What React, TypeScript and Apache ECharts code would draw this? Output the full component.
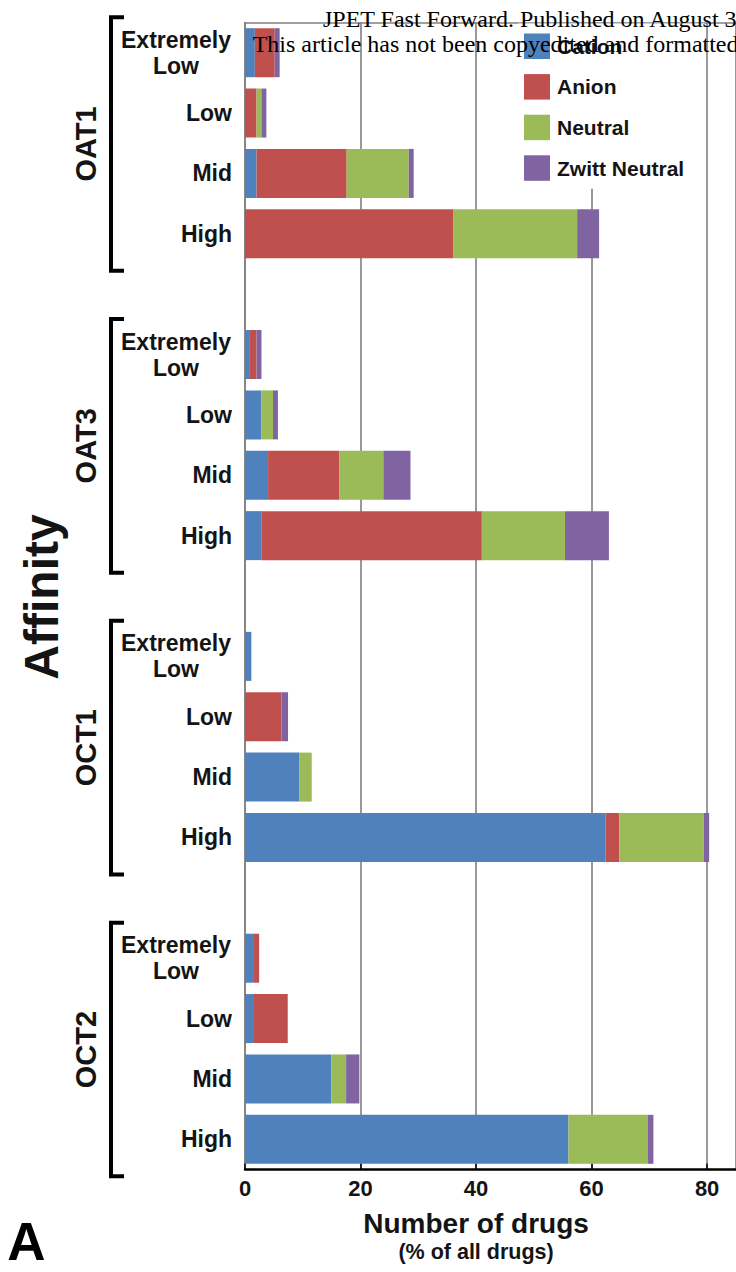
import React, { useEffect, useRef } from "react";
import * as echarts from "echarts";

// Transporter groups and affinity levels (top to bottom)
const groups = ["OAT1", "OAT3", "OCT1", "OCT2"];
const levels = ["Extremely Low", "Low", "Mid", "High"];

// Number of drugs (% of all drugs), listed group by group in level order
const cation = [1.7, 0, 2.0, 0, 0.85, 2.85, 4.0, 2.9, 1.1, 0, 9.45, 62.4, 1.4, 1.4, 14.95, 56.0];
const anion = [3.45, 2.0, 15.6, 36.1, 1.15, 0, 12.35, 38.1, 0, 6.3, 0, 2.4, 1.05, 6.0, 0, 0];
const neutral = [0, 0.85, 10.75, 21.4, 0, 2.0, 7.6, 14.4, 0, 0, 2.1, 14.6, 0, 0, 2.55, 13.7];
const zwitt = [0.85, 0.85, 0.85, 3.8, 0.85, 0.85, 4.7, 7.6, 0, 1.15, 0, 0.95, 0, 0, 2.3, 1.0];

const seriesNames = ["Cation", "Anion", "Neutral", "Zwitt Neutral"];
const seriesColors = ["#4F81BD", "#C0504D", "#9BBB59", "#8064A2"];
const seriesValues = [cation, anion, neutral, zwitt];

const xTicks = [0, 20, 40, 60, 80];

const FONT = "'Liberation Sans', Arial, sans-serif";
const SERIF = "'Liberation Serif', 'Times New Roman', serif";
const INK = "#141414";

// Category slots: four levels per group, one empty slot between groups
const categories: string[] = [];
const slotIndex: number[] = [];
groups.forEach((g, gi) => {
  levels.forEach((lv) => {
    slotIndex.push(categories.length);
    categories.push(`${g}|${lv}`);
  });
  if (gi < groups.length - 1) categories.push(`gap${gi}`);
});

function seriesData(values: number[]) {
  const out: (number | string)[] = categories.map(() => "-");
  values.forEach((v, i) => {
    out[slotIndex[i]] = v;
  });
  return out;
}

export default function App() {
  const ref = useRef<HTMLDivElement>(null);

  useEffect(() => {
    if (!ref.current) return;
    const chart = echarts.init(ref.current, null, { renderer: "svg" });

    const option: any = {
      animation: false,
      backgroundColor: "#ffffff",
      grid: { left: 245, top: 22.5, width: 494, height: 1147, containLabel: false },
      legend: {
        data: seriesNames,
        orient: "vertical",
        left: 518,
        top: 23.5,
        padding: [10, 20, 8, 6],
        backgroundColor: "#ffffff",
        icon: "rect",
        itemWidth: 26,
        itemHeight: 25.5,
        itemGap: 15.1,
        textStyle: { fontFamily: FONT, fontSize: 21, fontWeight: "bold", color: INK, padding: [0, 0, 0, 2] },
        z: 5,
      },
      xAxis: [
        {
          type: "value",
          position: "bottom",
          min: 0,
          max: 85,
          interval: 20,
          axisLine: { show: true, lineStyle: { color: "#000", width: 2.5 } },
          axisTick: { show: true, inside: true, length: 6, lineStyle: { color: "#000", width: 1.5 } },
          axisLabel: {
            margin: 8,
            fontFamily: FONT,
            fontSize: 22,
            fontWeight: "bold",
            color: INK,
            showMaxLabel: false,
            formatter: (v: number) => (xTicks.includes(v) ? String(v) : ""),
          },
          splitLine: { show: true, lineStyle: { color: "#777", width: 1.5 } },
        },
        {
          type: "value",
          position: "top",
          min: 0,
          max: 85,
          interval: 20,
          axisLine: { show: true, lineStyle: { color: "#808080", width: 1.5 } },
          axisTick: { show: false },
          axisLabel: { show: false },
          splitLine: { show: false },
        },
      ],
      yAxis: {
        type: "category",
        data: categories,
        inverse: true,
        axisLine: { show: true, lineStyle: { color: "#808080", width: 1.5 } },
        axisTick: { show: false },
        axisLabel: {
          margin: 13,
          fontFamily: FONT,
          fontSize: 23,
          fontWeight: "bold",
          color: INK,
          formatter: (v: string) => {
            if (!v.includes("|")) return "";
            const lv = v.split("|")[1];
            if (lv === "Extremely Low") return "{c|Extremely}\n{c|Low}";
            return lv;
          },
          rich: {
            c: {
              width: 112,
              align: "center",
              fontFamily: FONT,
              fontSize: 23,
              fontWeight: "bold",
              color: INK,
              lineHeight: 26,
            },
          },
        },
        splitLine: { show: false },
      },
      series: seriesNames.map((name, i) => ({
        name,
        type: "bar",
        stack: "drugs",
        xAxisIndex: 0,
        barWidth: 49,
        itemStyle: { color: seriesColors[i] },
        data: seriesData(seriesValues[i]),
      })),
    };

    chart.setOption(option);

    const yPix = (cat: string) => chart.convertToPixel({ yAxisIndex: 0 }, cat) as number;
    const xPix = (v: number) => chart.convertToPixel({ xAxisIndex: 0 }, v) as number;

    const graphics: any[] = [];

    // Group brackets and rotated group names
    groups.forEach((g) => {
      const yTop = yPix(`${g}|${levels[0]}`) - 35.5;
      const yBot = yPix(`${g}|${levels[levels.length - 1]}`) + 37;
      graphics.push({
        type: "polyline",
        shape: { points: [[124, yTop], [111, yTop], [111, yBot], [124, yBot]] },
        style: { stroke: "#000", lineWidth: 4, fill: null, lineJoin: "miter" },
        z: 50,
      });
      graphics.push({
        type: "text",
        x: 85.5,
        y: (yTop + yBot) / 2,
        rotation: Math.PI / 2,
        style: {
          text: g,
          fontFamily: FONT,
          fontSize: 29,
          fontWeight: "bold",
          fill: INK,
          align: "center",
          verticalAlign: "middle",
        },
        z: 50,
      });
    });

    // Axis titles
    const slot = 1147 / categories.length;
    const plotTop = yPix(categories[0]) - slot / 2;
    const plotBot = yPix(categories[categories.length - 1]) + slot / 2;
    graphics.push({
      type: "text",
      x: 41,
      y: (plotTop + plotBot) / 2 + 1,
      rotation: Math.PI / 2,
      style: {
        text: "Affinity",
        fontFamily: FONT,
        fontSize: 48,
        fontWeight: "bold",
        fill: INK,
        align: "center",
        verticalAlign: "middle",
      },
      z: 50,
    });
    graphics.push({
      type: "text",
      x: xPix(40),
      y: 1223,
      style: {
        text: "Number of drugs",
        fontFamily: FONT,
        fontSize: 28,
        fontWeight: "bold",
        fill: INK,
        align: "center",
        verticalAlign: "middle",
      },
      z: 50,
    });
    graphics.push({
      type: "text",
      x: xPix(40),
      y: 1252,
      style: {
        text: "(% of all drugs)",
        fontFamily: FONT,
        fontSize: 21.5,
        fontWeight: "bold",
        fill: INK,
        align: "center",
        verticalAlign: "middle",
      },
      z: 50,
    });

    // Panel letter
    graphics.push({
      type: "text",
      x: 26.5,
      y: 1241,
      style: {
        text: "A",
        fontFamily: FONT,
        fontSize: 53,
        fontWeight: "bold",
        fill: "#000",
        align: "center",
        verticalAlign: "middle",
      },
      z: 50,
    });

    // Journal header printed across the top
    graphics.push({
      type: "text",
      x: 323,
      y: 18.6,
      style: {
        text: "JPET Fast Forward. Published on August 3",
        fontFamily: SERIF,
        fontSize: 24,
        fill: "#000",
        align: "left",
        verticalAlign: "middle",
      },
      z: 100,
    });
    graphics.push({
      type: "text",
      x: 252.7,
      y: 43.6,
      style: {
        text: "This article has not been copyedited and formatted",
        fontFamily: SERIF,
        fontSize: 24,
        fill: "#000",
        align: "left",
        verticalAlign: "middle",
      },
      z: 100,
    });

    chart.setOption({ graphic: { elements: graphics } });

    return () => chart.dispose();
  }, []);

  return (
    <div
      ref={ref}
      style={{ position: "absolute", left: 0, top: 0, width: 736, height: 1272, background: "#fff" }}
    />
  );
}
